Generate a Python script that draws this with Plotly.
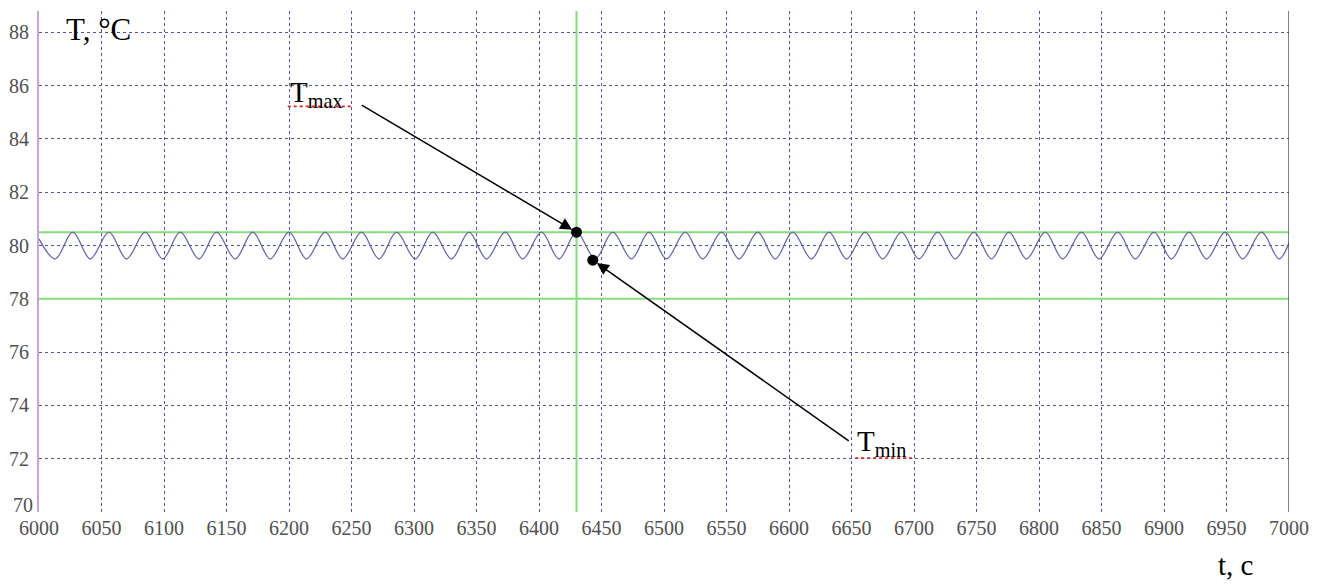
import plotly.graph_objects as go

# ---- data ----
wave_t = [6000, 6013, 6027, 6041, 6056, 6070, 6085, 6099, 6113, 6128, 6142, 6157, 6171, 6185,
          6200, 6214, 6229, 6243, 6258, 6272, 6286, 6301, 6315, 6330, 6344, 6358, 6373, 6387,
          6402, 6416, 6430, 6445, 6459, 6474, 6488, 6502, 6517, 6531, 6546, 6560, 6575, 6589,
          6603, 6618, 6632, 6646, 6661, 6675, 6690, 6704, 6719, 6733, 6748, 6762, 6776, 6790,
          6805, 6819, 6834, 6848, 6863, 6877, 6892, 6906, 6920, 6934, 6949, 6963, 6978, 6992, 7000]
wave_T = [80.25] + [79.5, 80.5] * 34 + [79.5, 80.1]

limit_upper = 80.5
limit_lower = 78.0
t_marker = 6430

point_t = [6430, 6443]
point_T = [80.5, 79.45]
label_tail_t = [6257, 6649]
label_tail_T = [85.3, 72.63]

x_ticks = list(range(6000, 7001, 50))
y_ticks = list(range(70, 89, 2))

FONT = "Liberation Serif"
GRID = "#5252a6"
TICKC = "#505050"

fig = go.Figure()

# limit lines
for yy in (limit_upper, limit_lower):
    fig.add_trace(go.Scatter(x=[6000, 7000], y=[yy, yy], mode="lines",
                             line=dict(color="#86dc7e", width=2), hoverinfo="skip", showlegend=False))
fig.add_trace(go.Scatter(x=[t_marker, t_marker], y=[70, 88.8], mode="lines",
                         line=dict(color="#86dc7e", width=2), hoverinfo="skip", showlegend=False))

# temperature wave
fig.add_trace(go.Scatter(x=wave_t, y=wave_T, mode="lines",
                         line=dict(color="#6464ac", width=1.3, shape="spline", smoothing=1.0),
                         showlegend=False))

# marked points
fig.add_trace(go.Scatter(x=point_t, y=point_T, mode="markers",
                         marker=dict(color="black", size=11), showlegend=False))

annotations = []
for i in range(2):
    annotations.append(dict(x=point_t[i], y=point_T[i], ax=label_tail_t[i], ay=label_tail_T[i],
                            xref="x", yref="y", axref="x", ayref="y", text="",
                            showarrow=True, arrowhead=2, arrowsize=1.6, arrowwidth=1.5,
                            arrowcolor="black", standoff=5))
annotations.append(dict(x=6199, y=85.68, xref="x", yref="y", xanchor="left", yanchor="middle",
                        text="T<sub>max</sub>", showarrow=False,
                        font=dict(family=FONT, size=29, color="black")))
annotations.append(dict(x=6653, y=72.6, xref="x", yref="y", xanchor="left", yanchor="middle",
                        text="T<sub>min</sub>", showarrow=False,
                        font=dict(family=FONT, size=29, color="black")))
annotations.append(dict(x=6020, y=88.1, xref="x", yref="y", xanchor="left", yanchor="middle",
                        text="T, °C", showarrow=False,
                        font=dict(family=FONT, size=31, color="black")))
annotations.append(dict(x=0.957, y=-0.106, xref="paper", yref="paper", xanchor="center", yanchor="middle",
                        text="t, c", showarrow=False,
                        font=dict(family=FONT, size=29, color="black")))
annotations.append(dict(x=0, y=70, xref="paper", yref="y", xanchor="right", yanchor="middle",
                        xshift=-4, yshift=7, text="70", showarrow=False,
                        font=dict(family=FONT, size=20, color=TICKC)))

shapes = [
    dict(type="line", xref="x", yref="paper", x0=7000, x1=7000, y0=0, y1=1,
         line=dict(color="#333333", width=1.2)),
    dict(type="line", xref="x", yref="y", x0=6199, x1=6250, y0=85.22, y1=85.22,
         line=dict(color="#d82020", width=1.6, dash="dot")),
    dict(type="line", xref="x", yref="y", x0=6653, x1=6700, y0=72.02, y1=72.02,
         line=dict(color="#d82020", width=1.6, dash="dot")),
]

# page body has an 8px margin: compensate so the plot lands where the reference has it
fig.update_layout(
    width=1322, height=576,
    margin=dict(l=31, r=41, t=3, b=72),
    paper_bgcolor="white", plot_bgcolor="white",
    annotations=annotations, shapes=shapes,
    font=dict(family=FONT, size=20, color=TICKC),
    xaxis=dict(range=[6000, 7000], tickvals=x_ticks, ticktext=[str(v) for v in x_ticks],
               showgrid=True, gridcolor=GRID, griddash="dot", gridwidth=1,
               zeroline=False, showline=False, ticks="", ticklabelstandoff=2,
               automargin=False,
               tickfont=dict(family=FONT, size=20, color=TICKC)),
    yaxis=dict(range=[70, 88.8], tickvals=y_ticks,
               ticktext=["" if v == 70 else str(v) for v in y_ticks],
               showgrid=True, gridcolor=GRID, griddash="dot", gridwidth=1,
               zeroline=False, showline=True, linecolor="#c9a3dc", linewidth=2,
               ticks="", ticklabelstandoff=4, automargin=False,
               tickfont=dict(family=FONT, size=20, color=TICKC)),
)

fig.write_html("out.html")
